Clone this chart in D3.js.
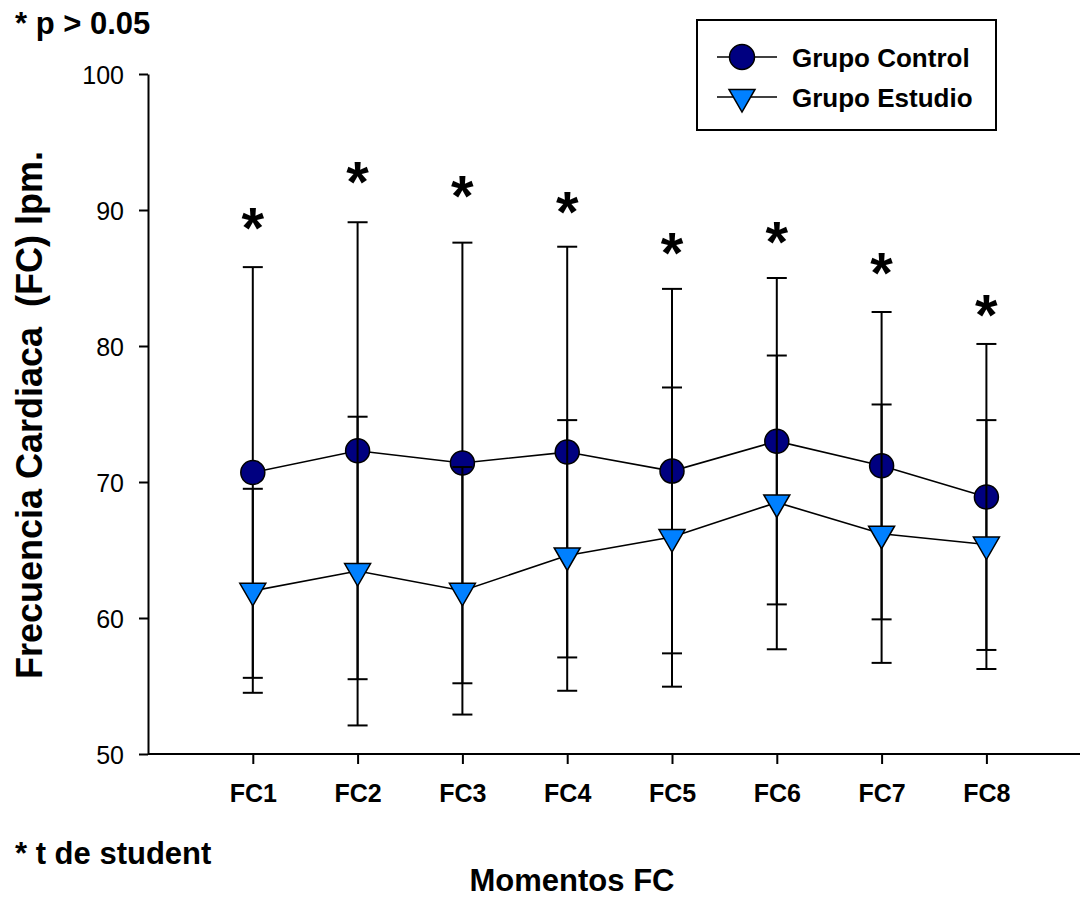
<!DOCTYPE html>
<html>
<head>
<meta charset="utf-8">
<script src="https://cdn.jsdelivr.net/npm/d3@7/dist/d3.min.js"></script>
<style>
  html, body { margin: 0; padding: 0; background: #fff; }
  svg { display: block; font-family: "Liberation Sans", Arial, Helvetica, sans-serif; }
</style>
</head>
<body>
<svg id="chart" width="1080" height="899"></svg>
<script>
// ---- data ----
const categories = ["FC1", "FC2", "FC3", "FC4", "FC5", "FC6", "FC7", "FC8"];
const controlMean = [70.7, 72.3, 71.4, 72.2, 70.8, 73.0, 71.2, 68.9];
const controlSD   = [15.1, 16.8, 16.2, 15.1, 13.4, 12.0, 11.3, 11.25];
const estudioMean = [62.0, 63.45, 62.0, 64.6, 65.95, 68.5, 66.2, 65.4];
const estudioSD   = [7.5, 11.35, 9.1, 9.95, 11.0, 10.8, 9.5, 9.15];
const starValues  = [89.4, 92.8, 91.8, 90.6, 87.6, 88.35, 86.1, 83.0];
const yTicks = [50, 60, 70, 80, 90, 100];
const seriesNames = ["Grupo Control", "Grupo Estudio"];

// ---- layout ----
const svg = d3.select("#chart");
const x0 = 148, yTop = 74, yBot = 754;
const x = d3.scaleLinear().domain([0, categories.length + 1]).range([x0, x0 + 104.8 * 9]);
const y = d3.scaleLinear().domain([50, 100]).range([yBot, yTop]);

const navy = "#000080", blue = "#0080ff";

// axes
const yAxis = d3.axisLeft(y).tickValues(yTicks).tickSize(9).tickSizeOuter(0).tickPadding(15);
const gy = svg.append("g").attr("transform", `translate(${x0},0)`).call(yAxis);
gy.selectAll("path, line").attr("stroke", "#000").attr("stroke-width", 2);
gy.selectAll("text").attr("font-size", 25).attr("fill", "#000").attr("dy", "0.36em");

const xAxis = d3.axisBottom(x).tickValues(d3.range(1, categories.length + 1))
  .tickFormat(d => categories[d - 1]).tickSize(10).tickSizeOuter(0).tickPadding(20);
const gx = svg.append("g").attr("transform", `translate(0,${yBot})`).call(xAxis);
gx.select("path").attr("d", `M${x0},0H1080`);
gx.selectAll("path, line").attr("stroke", "#000").attr("stroke-width", 2);
gx.selectAll("text").attr("font-size", 25).attr("font-weight", "bold").attr("fill", "#000");

// series drawing
function drawSeries(means, sds, kind) {
  const g = svg.append("g");
  const pts = means.map((m, i) => ({ i: i + 1, m, sd: sds[i] }));
  // error bars
  const eb = g.selectAll(".eb").data(pts).enter().append("g");
  eb.append("line")
    .attr("x1", d => x(d.i)).attr("x2", d => x(d.i))
    .attr("y1", d => y(d.m + d.sd)).attr("y2", d => y(d.m - d.sd))
    .attr("stroke", "#000").attr("stroke-width", 2);
  [1, -1].forEach(s => {
    eb.append("line")
      .attr("x1", d => x(d.i) - 10).attr("x2", d => x(d.i) + 10)
      .attr("y1", d => y(d.m + s * d.sd)).attr("y2", d => y(d.m + s * d.sd))
      .attr("stroke", "#000").attr("stroke-width", 2);
  });
  // connecting line
  g.append("path").datum(pts)
    .attr("d", d3.line().x(d => x(d.i)).y(d => y(d.m)))
    .attr("fill", "none").attr("stroke", "#000").attr("stroke-width", 1.6);
  // markers
  if (kind === "circle") {
    g.selectAll(".mk").data(pts).enter().append("circle")
      .attr("cx", d => x(d.i)).attr("cy", d => y(d.m)).attr("r", 12)
      .attr("fill", navy).attr("stroke", "#000").attr("stroke-width", 1.5);
  } else {
    g.selectAll(".mk").data(pts).enter().append("path")
      .attr("d", d => triPath(x(d.i), y(d.m)))
      .attr("fill", blue).attr("stroke", "#000").attr("stroke-width", 1.5);
  }
}
function triPath(cx, cy) {
  const s = 26, h = s * Math.sqrt(3) / 2;
  return `M${cx - s / 2},${cy - h / 3}L${cx + s / 2},${cy - h / 3}L${cx},${cy + 2 * h / 3}Z`;
}

drawSeries(controlMean, controlSD, "circle");
drawSeries(estudioMean, estudioSD, "triangle");

// significance stars
svg.append("g").selectAll("text").data(starValues).enter().append("text")
  .attr("x", (d, i) => x(i + 1)).attr("y", d => y(d) + 30)
  .attr("text-anchor", "middle").attr("font-size", 58).attr("font-weight", "bold")
  .text("*");

// legend
const lg = svg.append("g");
lg.append("rect").attr("x", 697).attr("y", 20).attr("width", 299).attr("height", 110)
  .attr("fill", "#fff").attr("stroke", "#000").attr("stroke-width", 2);
const rows = [57, 97];
rows.forEach((ry, k) => {
  lg.append("line").attr("x1", 717).attr("x2", 777).attr("y1", ry).attr("y2", ry)
    .attr("stroke", "#000").attr("stroke-width", 1.6);
  if (k === 0) {
    lg.append("circle").attr("cx", 742).attr("cy", ry).attr("r", 12.5)
      .attr("fill", navy).attr("stroke", "#000").attr("stroke-width", 1.5);
  } else {
    lg.append("path").attr("d", triPath(742, ry)).attr("fill", blue)
      .attr("stroke", "#000").attr("stroke-width", 1.5);
  }
  lg.append("text").attr("x", 792).attr("y", ry + 10).attr("font-size", 26)
    .attr("font-weight", "bold").text(seriesNames[k]);
});

// texts
svg.append("text").attr("x", 15).attr("y", 34).attr("font-size", 31).attr("font-weight", "bold").text("* p > 0.05");
svg.append("text").attr("x", 15).attr("y", 864).attr("font-size", 31).attr("font-weight", "bold").text("* t de student");
svg.append("text").attr("x", 572).attr("y", 891).attr("text-anchor", "middle").attr("font-size", 31)
  .attr("font-weight", "bold").text("Momentos FC");
svg.append("text").attr("transform", `translate(42,415) rotate(-90)`).attr("text-anchor", "middle")
  .attr("font-size", 36).attr("font-weight", "bold").attr("xml:space", "preserve")
  .style("white-space", "pre").text("Frecuencia Cardiaca  (FC) lpm.");
</script>
</body>
</html>
